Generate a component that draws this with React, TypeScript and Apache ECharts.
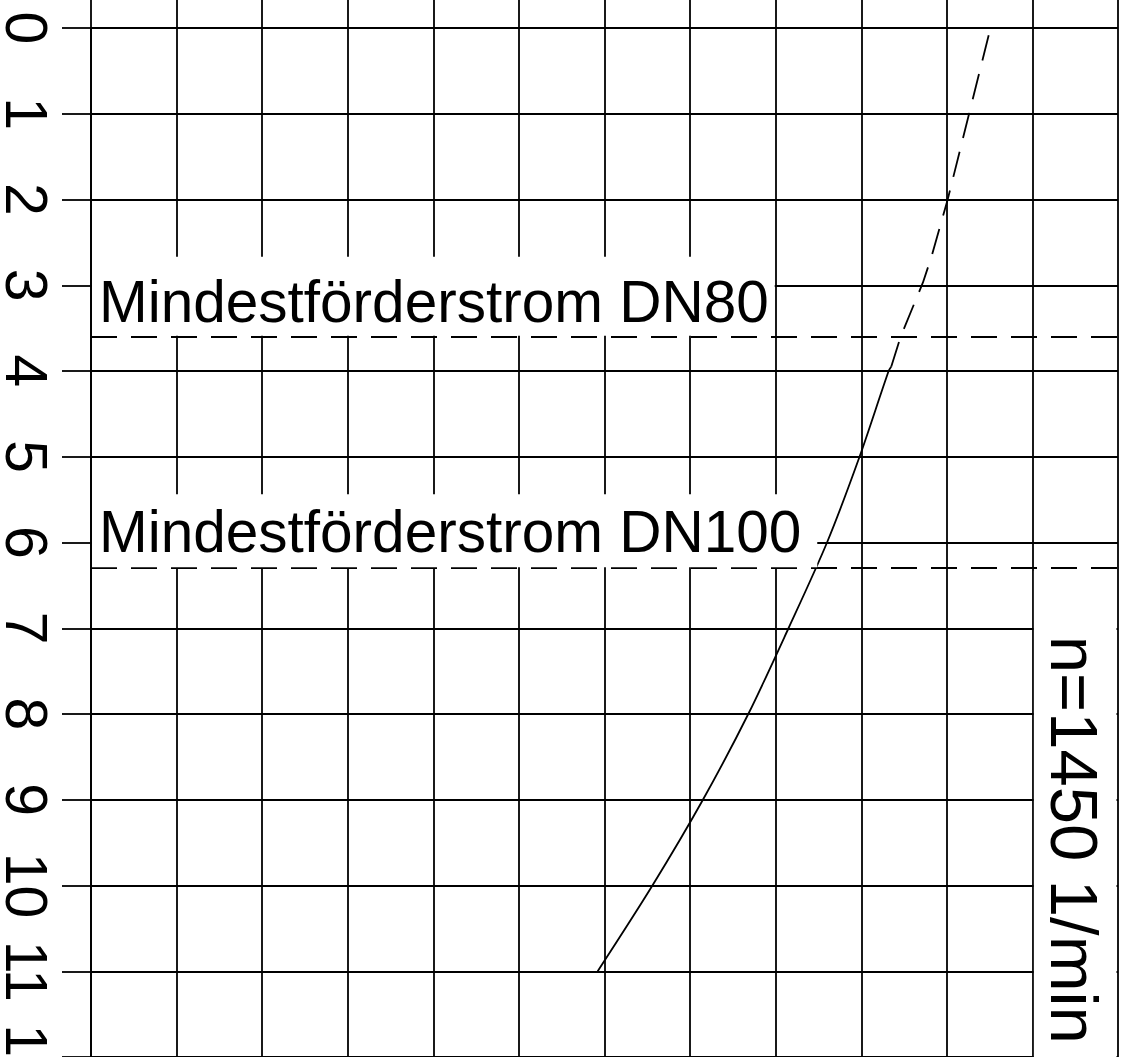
import React, { useEffect, useRef } from 'react';
import * as echarts from 'echarts';

// ---- data ----
const X_MIN = 0;
const X_MAX = 12;
const Y_MIN = 0;
const Y_MAX = 12;
const TICK_STEP = 1;

// solid part of the curve (x = grid column, y = axis value, axis runs downward)
const solidX = [5.92, 6.56, 7.15, 7.68, 8.15, 8.6, 8.98, 9.32, 9.35];
const solidY = [11, 10, 9, 8, 7, 6, 5, 4, 3.95];
// dashed continuation
const dashedX = [9.35, 9.46, 9.72, 9.82, 10.01, 10.26, 10.51];
const dashedY = [3.95, 3.6, 2.97, 2.67, 2.0, 1.0, 0];

const minFlowNames = ['Mindestförderstrom DN80', 'Mindestförderstrom DN100'];
const minFlowValues = [3.6, 6.3];

const speedLabel = 'n=1450 1/min';
const speedBoxColumn = [11, 12];
const speedBoxTop = 6.33;

// ---- styles ----
const FONT = '"Liberation Sans", Arial, Helvetica, sans-serif';
const INK = '#000';
const LW = 1.8;
const DASH = [26, 14];
const labelPaddings = [
  [15, 6, 5, 7],
  [8, 16, 6, 7],
];

export default function App() {
  const ref = useRef<HTMLDivElement>(null);

  useEffect(() => {
    if (!ref.current) return;
    const chart = echarts.init(ref.current, null, { renderer: 'svg' });

    const solidData = solidX.map((x, i) => [x, solidY[i]]);
    const dashedData = dashedX.map((x, i) => [x, dashedY[i]]);

    chart.setOption({
      animation: false,
      backgroundColor: '#fff',
      textStyle: { fontFamily: FONT, color: INK },
      grid: {
        left: 91,
        right: 9,
        top: 28,
        bottom: 0,
        containLabel: false,
        outerBoundsMode: 'none',
      },
      xAxis: {
        type: 'value',
        position: 'top',
        min: X_MIN,
        max: X_MAX,
        interval: TICK_STEP,
        axisLine: { show: false },
        axisTick: { show: true, length: 28, lineStyle: { color: INK, width: LW } },
        axisLabel: { show: false },
        splitLine: { show: true, lineStyle: { color: INK, width: LW } },
      },
      yAxis: {
        type: 'value',
        inverse: true,
        min: Y_MIN,
        max: Y_MAX,
        interval: TICK_STEP,
        axisLine: { show: true, lineStyle: { color: INK, width: LW } },
        axisTick: { show: true, length: 29, lineStyle: { color: INK, width: LW } },
        axisLabel: {
          show: true,
          rotate: -90,
          margin: 65,
          align: 'center',
          verticalAlign: 'middle',
          fontSize: 59,
          lineHeight: 50,
          fontFamily: FONT,
          color: INK,
          showMinLabel: true,
          showMaxLabel: true,
        },
        splitLine: { show: true, lineStyle: { color: INK, width: LW } },
      },
      series: [
        {
          type: 'line',
          name: 'solid',
          data: solidData,
          showSymbol: false,
          smooth: 0.3,
          lineStyle: { color: INK, width: LW },
          z: 3,
          markLine: {
            silent: true,
            symbol: ['none', 'none'],
            lineStyle: { color: INK, width: LW, type: DASH },
            data: minFlowValues.map((v, i) => ({
              yAxis: v,
              name: minFlowNames[i],
              label: {
                show: true,
                position: 'insideStartTop',
                formatter: minFlowNames[i],
                distance: [1, 1],
                fontSize: 58.5,
                fontFamily: FONT,
                color: INK,
                backgroundColor: '#fff',
                padding: labelPaddings[i],
              },
            })),
          },
        },
        {
          type: 'line',
          name: 'dashed',
          data: dashedData,
          showSymbol: false,
          smooth: false,
          lineStyle: { color: INK, width: LW, type: DASH },
          z: 3,
        },
      ],
    });

    const p1 = chart.convertToPixel({ gridIndex: 0 }, [speedBoxColumn[0], speedBoxTop]) as number[];
    const p2 = chart.convertToPixel({ gridIndex: 0 }, [speedBoxColumn[1], Y_MAX]) as number[];
    chart.setOption({
      graphic: [
        {
          type: 'rect',
          shape: { x: p1[0] + 1.5, y: p1[1], width: p2[0] - p1[0] - 3, height: p2[1] - p1[1] + 20 },
          style: { fill: '#fff' },
          z: 50,
        },
        {
          type: 'text',
          x: p1[0] + 42,
          y: p1[1] + 65,
          rotation: -Math.PI / 2,
          style: {
            text: speedLabel,
            fontSize: 67,
            fontFamily: FONT,
            fill: INK,
            align: 'left',
            verticalAlign: 'middle',
          },
          z: 51,
        },
      ],
    });

    return () => chart.dispose();
  }, []);

  return (
    <div
      ref={ref}
      style={{ position: 'fixed', left: 0, top: 0, width: 1127, height: 1057, background: '#fff' }}
    />
  );
}
